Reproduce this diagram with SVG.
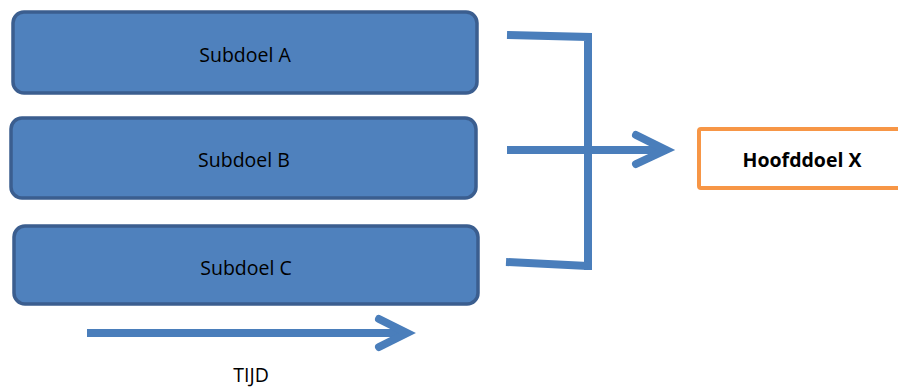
<svg xmlns="http://www.w3.org/2000/svg" width="898" height="387" viewBox="0 0 898 387">
<style>
.box{fill:#4f81bd;stroke:#3b5e8f;stroke-width:3.5}
.lbl{font-family:"Open Sans","Noto Sans",sans-serif;font-size:19.5px;fill:#000;text-anchor:middle}
.ln{fill:none;stroke:#4a7ebb;stroke-width:8}
.hd{fill:none;stroke:#4a7ebb;stroke-width:8;stroke-linecap:round;stroke-linejoin:miter}
</style>
<rect width="898" height="387" fill="#fff"/>
<g id="subdoelA"><rect class="box" x="13" y="12" width="464" height="81" rx="11"/><text class="lbl" x="245" y="62">Subdoel A</text></g>
<g id="subdoelB"><rect class="box" x="11" y="118" width="465" height="80" rx="11"/><text class="lbl" x="244" y="167">Subdoel B</text></g>
<g id="subdoelC"><rect class="box" x="14" y="226" width="464" height="78" rx="11"/><text class="lbl" x="246" y="275">Subdoel C</text></g>
<g id="hoofddoel"><rect x="699" y="129" width="210" height="59" rx="2" fill="#fff" stroke="#f79646" stroke-width="4"/><text class="lbl" x="802" y="167" font-weight="bold">Hoofddoel X</text></g>
<g id="connectors">
<polyline class="ln" points="507,35 588,37 588,270"/>
<polyline class="ln" points="506,262 588,266"/>
<line class="ln" x1="507" y1="150" x2="664" y2="150"/>
<polyline class="hd" points="636,135 666,150 636,164"/>
<line class="ln" x1="87" y1="333" x2="404" y2="333"/>
<polyline class="hd" points="379,319 407,333 379,347"/>
</g>
<text class="lbl" x="251" y="382">TIJD</text>
</svg>
